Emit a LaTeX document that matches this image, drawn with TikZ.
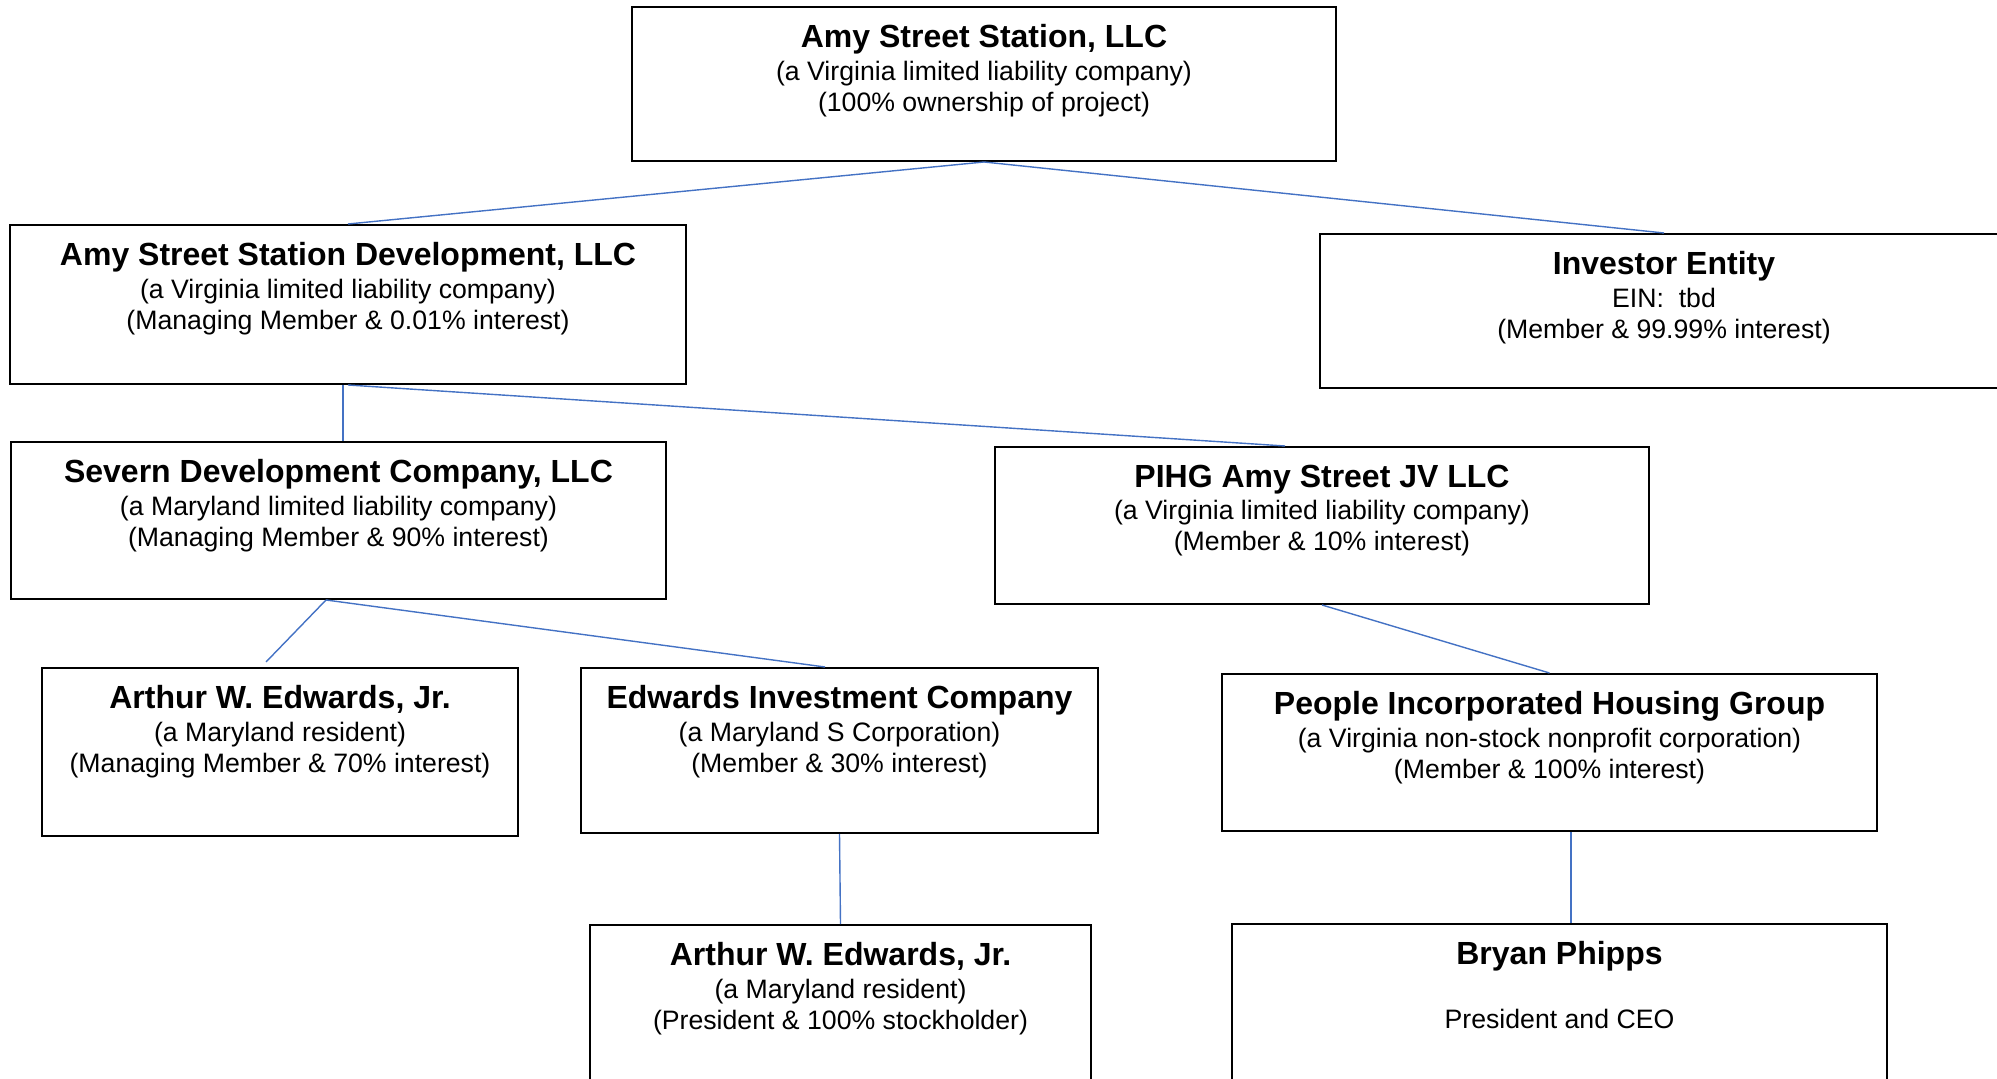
\documentclass[tikz,border=0pt]{standalone}
\usepackage{fontspec}
\setmainfont{Liberation Sans}
\usepackage{tikz}
\usetikzlibrary{positioning}
\definecolor{linkblue}{HTML}{4472C4}
\newcommand{\entname}[1]{{\bfseries\fontsize{16}{19}\selectfont #1}}

\begin{document}
\begin{tikzpicture}[x=0.5pt, y=-0.5pt,
    entity/.style={draw, line width=1pt, inner sep=0pt},
    info/.style={inner sep=0pt, align=center, font=\fontsize{13.33}{15.5}\selectfont},
    link/.style={draw=linkblue, line width=0.7pt}]
    \useasboundingbox (0, 0) rectangle (1997, 1079);
    \clip (0, 0) rectangle (1997, 1079);

    % boxes
    \node [entity, minimum width=352pt, minimum height=77pt] (station) at (984, 84) {};
    \node [entity, minimum width=338pt, minimum height=79.5pt] (devllc) at (348, 304.5) {};
    \node [entity, minimum width=344pt, minimum height=77pt] (investor) at (1664, 311) {};
    \node [entity, minimum width=327.5pt, minimum height=78.5pt] (severn) at (338.5, 520.5) {};
    \node [entity, minimum width=327pt, minimum height=78.5pt] (pihg) at (1322, 525.5) {};
    \node [entity, minimum width=238pt, minimum height=84pt] (edwards) at (280, 752) {};
    \node [entity, minimum width=258.5pt, minimum height=82.5pt] (eic) at (839.5, 750.5) {};
    \node [entity, minimum width=327.5pt, minimum height=78.5pt] (people) at (1549.5, 752.5) {};
    \node [entity, minimum width=250.5pt, minimum height=80pt] (edwardsb) at (840.5, 1005) {};
    \node [entity, minimum width=327.5pt, minimum height=80pt] (phipps) at (1559.5, 1004) {};

    % texts
    \node [info, below=9.15pt of station.north] (station-t) {\entname{Amy Street Station, LLC}\\[0.95pt] (a Virginia limited liability company)\\ (100\% ownership of project)};
    \node [info, below=9.15pt of devllc.north] (devllc-t) {\entname{Amy Street Station Development, LLC}\\[0.95pt] (a Virginia limited liability company)\\ (Managing Member \& 0.01\% interest)};
    \node [info, below=9.15pt of investor.north] (investor-t) {\entname{Investor Entity}\\[0.95pt] EIN:\ \ tbd\\ (Member \& 99.99\% interest)};
    \node [info, below=9.15pt of severn.north] (severn-t) {\entname{Severn Development Company, LLC}\\[0.95pt] (a Maryland limited liability company)\\ (Managing Member \& 90\% interest)};
    \node [info, below=9.15pt of pihg.north] (pihg-t) {\entname{PIHG Amy Street JV LLC}\\[0.95pt] (a Virginia limited liability company)\\ (Member \& 10\% interest)};
    \node [info, below=9.15pt of edwards.north] (edwards-t) {\entname{Arthur W. Edwards, Jr.}\\[0.95pt] (a Maryland resident)\\ (Managing Member \& 70\% interest)};
    \node [info, below=9.15pt of eic.north] (eic-t) {\entname{Edwards Investment Company}\\[0.95pt] (a Maryland S Corporation)\\ (Member \& 30\% interest)};
    \node [info, below=9.15pt of people.north] (people-t) {\entname{People Incorporated Housing Group}\\[0.95pt] (a Virginia non-stock nonprofit corporation)\\ (Member \& 100\% interest)};
    \node [info, below=9.15pt of edwardsb.north] (edwardsb-t) {\entname{Arthur W. Edwards, Jr.}\\[0.95pt] (a Maryland resident)\\ (President \& 100\% stockholder)};
    \node [info, below=9.15pt of phipps.north] (phipps-t) {\entname{Bryan Phipps}\\[0.95pt] \mbox{}\\ President and CEO};

    % ownership lines
    \draw [link] (station.south) -- (devllc.north);
    \draw [link] (station.south) -- (investor.north);
    \draw [link] ([xshift=-2.5pt]devllc.south) -- ([xshift=2.25pt]severn.north);
    \draw [link] (devllc.south) -- ([xshift=-18.5pt]pihg.north);
    \draw [link] ([xshift=-6.25pt]severn.south) -- ([xshift=-7pt, yshift=2.5pt]edwards.north);
    \draw [link] ([xshift=-6.25pt]severn.south) -- ([xshift=-7.25pt]eic.north);
    \draw [link] (eic.south) -- (edwardsb.north);
    \draw [link] (pihg.south) -- (people.north);
    \draw [link] ([xshift=10.75pt]people.south) -- ([xshift=5.75pt]phipps.north);
\end{tikzpicture}
\end{document}
